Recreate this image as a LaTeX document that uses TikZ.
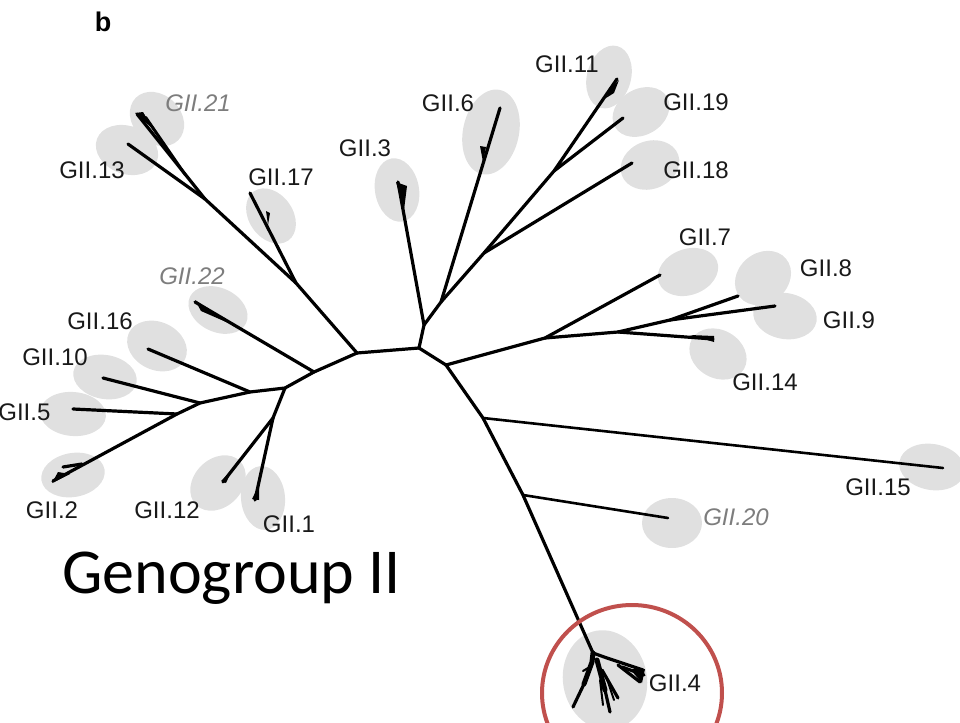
\documentclass[tikz,border=0pt]{standalone}
\usepackage{fontspec}
\setmainfont{Liberation Sans}
\newfontfamily\calibrifont{Carlito}
\definecolor{ellgray}{RGB}{224,224,224}
\definecolor{labgray}{RGB}{125,125,125}
\definecolor{circred}{RGB}{192,80,77}
\newcommand\gel[5]{\fill[ellgray, rotate around={#5:(#1,#2)}] (#1,#2) ellipse [x radius=#3, y radius=#4];}
\begin{document}
\begin{tikzpicture}[x=0.5pt,y=-0.5pt,
  br/.style={line width=1.6pt, line cap=round, line join=round},
  thin br/.style={line width=1pt, line cap=round, line join=round},
  thick br/.style={line width=2.5pt, line cap=round, line join=round},
  lab/.style={font=\fontsize{12}{14}\selectfont, inner sep=0pt, text=black!90},
  glab/.style={font=\fontsize{12}{14}\selectfont\itshape, inner sep=0pt, text=labgray},
]
\useasboundingbox (0,0) rectangle (960,723);
\clip (0,0) rectangle (960,723);

% ---------- grey ellipses ----------
\gel{157}{119}{30}{24}{-45}
\gel{127}{150}{32}{24}{-20}
\gel{271}{216}{30}{22}{-55}
\gel{397}{190}{22}{32}{10}
\gel{491}{132}{28}{43}{-12}
\gel{609}{77}{22}{32}{-15}
\gel{641}{112}{30}{23}{30}
\gel{650}{165}{30}{24}{20}
\gel{688}{272}{31}{23}{20}
\gel{763}{278}{30}{25}{40}
\gel{785}{316}{32}{23}{-10}
\gel{718}{354}{30}{24}{-30}
\gel{932}{467}{33}{23}{-10}
\gel{672}{523}{30}{25}{0}
\gel{605}{680}{42}{50}{10}
\gel{218}{310}{31}{22}{-25}
\gel{157}{346}{31}{24}{-25}
\gel{105}{377}{32}{22}{-10}
\gel{73}{414}{33}{22}{-5}
\gel{73}{475}{32}{22}{10}
\gel{218}{483}{31}{24}{45}
\gel{263}{498}{22}{32}{5}

% ---------- tree coordinates ----------
\coordinate (A) at (357,353);
\coordinate (B) at (419,348);
\coordinate (K) at (296,283);
\coordinate (J21) at (205,199);
\coordinate (t21) at (137,114);
\coordinate (t13) at (128,144);
\coordinate (t17) at (250,193);
\coordinate (D) at (314,372);
\coordinate (t22) at (195,302);
\coordinate (E) at (285,388);
\coordinate (L) at (250,392);
\coordinate (t16) at (148,349);
\coordinate (M) at (200,403);
\coordinate (t10) at (103,378);
\coordinate (N) at (177,414);
\coordinate (t5) at (73,409);
\coordinate (t2) at (53,481);
\coordinate (F) at (273,418);
\coordinate (t12) at (223,482);
\coordinate (t1) at (255,500);
\coordinate (J3) at (424,325);
\coordinate (t3) at (398,182);
\coordinate (J6) at (441,302);
\coordinate (t6) at (500,108);
\coordinate (J18) at (484,253);
\coordinate (t18) at (632,163);
\coordinate (J19) at (554,171);
\coordinate (t19) at (623,118);
\coordinate (t11) at (617,79);
\coordinate (C) at (446,365);
\coordinate (P) at (545,338);
\coordinate (t7) at (660,275);
\coordinate (Q) at (618,332);
\coordinate (t14) at (713,339);
\coordinate (R) at (670,320);
\coordinate (t8) at (738,296);
\coordinate (t9) at (775,306);
\coordinate (G) at (483,418);
\coordinate (t15) at (943,468);
\coordinate (H) at (523,495);
\coordinate (t20) at (668,518);
\coordinate (W) at (593,653);

% ---------- branches ----------
\draw[br] (A) -- (B);
\draw[br] (A) -- (K) -- (J21) -- (t21);
\draw[br] (J21) -- (t13);
\draw[br] (K) -- (t17);
\draw[br] (A) -- (D) -- (t22);
\draw[br] (D) -- (E) -- (L) -- (M) -- (N) -- (t2);
\draw[br] (N) -- (t5);
\draw[br] (M) -- (t10);
\draw[br] (L) -- (t16);
\draw[br] (E) -- (F) -- (t12);
\draw[br] (F) -- (t1);
\draw[br] (B) -- (J3) -- (t3);
\draw[br] (J3) -- (J6) -- (t6);
\draw[br] (J6) -- (J18) -- (t18);
\draw[br] (J18) -- (J19) -- (t19);
\draw[br] (J19) -- (t11);
\draw[br] (B) -- (C) -- (P) -- (t7);
\draw[br] (P) -- (Q) -- (t14);
\draw[br] (Q) -- (R) -- (t8);
\draw[br] (R) -- (t9);
\draw[br] (C) -- (G) -- (H) -- (W);
\draw[br, line width=1.3pt] (G) -- (t15);
\draw[br, line width=1.3pt] (H) -- (t20);

% ---------- tip details ----------
\draw[thin br] (185,175) -- (142,113);
\draw[thin br] (188,178) -- (146,117);
\fill (135,113) -- (143,112) -- (152,128) -- cycle;
\fill (195,300) -- (201,311) -- (233,325) -- cycle;
\fill (396,182) -- (407,186) -- (404,210) -- cycle;
\fill (480,146) -- (486,147) -- (483,162) -- cycle;
\fill (606,98) -- (612,87) -- (619,80) -- (614,93) -- cycle;
\fill (266,211) -- (270,213) -- (268,225) -- cycle;
\fill (252,499) -- (259,500) -- (259,485) -- cycle;
\fill (221,481) -- (226,483) -- (232,470) -- cycle;
\fill (52,483) -- (58,472) -- (70,474) -- cycle;
\draw[br] (63,467) -- (82,464);
\fill (690,335) -- (714,336) -- (714,342) -- cycle;

% ---------- GII.4 subtree ----------
\coordinate (W1) at (607,658);
\coordinate (W2) at (618,665);
\coordinate (W3) at (592,662);
\coordinate (W4) at (597,660);
\coordinate (W5) at (602,670);
\draw[br] (W) -- (W1) -- (643,670);
\draw[br] (W2) -- (640,682);
\draw[br] (622,667) -- (644,675);
\fill (630,669) -- (645,669) -- (642,683) -- cycle;
\draw[thick br] (W) -- (W3) -- (584,684);
\draw[br] (584,684) -- (573,707);
\draw[thin br] (588,668) -- (583,671);
\draw[thick br] (W4) -- (605,690);
\draw[br] (605,690) -- (610,712);
\draw[br] (W5) -- (618,698);
\draw[thin br] (606,676) -- (614,700);
\draw[thin br] (600,680) -- (603,705);

% ---------- red circle ----------
\draw[circred, line width=2pt] (632,693) ellipse [x radius=90, y radius=88];

% ---------- labels ----------
\node[font=\fontsize{13.5}{15}\selectfont\bfseries, inner sep=0pt] (lb) at (103,22) {b};
\node[glab] (l21) at (198,103) {GII.21};
\node[lab] (l13) at (92,170) {GII.13};
\node[lab] (l17) at (281,177) {GII.17};
\node[lab] (l3) at (365,148) {GII.3};
\node[lab] (l6) at (448,103) {GII.6};
\node[lab] (l11) at (567,64) {GII.11};
\node[lab] (l19) at (696,102) {GII.19};
\node[lab] (l18) at (696,170) {GII.18};
\node[lab] (l7) at (705,237) {GII.7};
\node[lab] (l8) at (826,268) {GII.8};
\node[lab] (l9) at (849,320) {GII.9};
\node[lab] (l14) at (765,382) {GII.14};
\node[lab] (l15) at (878,487) {GII.15};
\node[glab] (l20) at (736,517) {GII.20};
\node[lab] (l4) at (675,683) {GII.4};
\node[glab] (l22) at (192,276) {GII.22};
\node[lab] (l16) at (100,321) {GII.16};
\node[lab] (l10) at (55,357) {GII.10};
\node[lab, anchor=west] (l5) at (-2,412) {GII.5};
\node[lab] (l2) at (52,510) {GII.2};
\node[lab] (l12) at (167,510) {GII.12};
\node[lab] (l1) at (289,524) {GII.1};
\node[font=\calibrifont\fontsize{32}{36}\selectfont, inner sep=0pt, anchor=base west] (title) at (62,593) {Genogroup II};
\end{tikzpicture}
\end{document}
